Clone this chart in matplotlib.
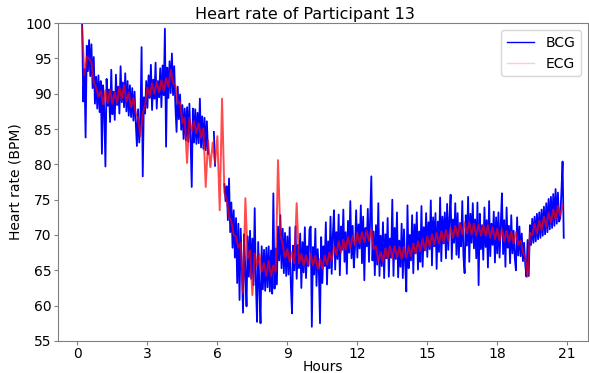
import numpy as np
import matplotlib
matplotlib.use("Agg")
import matplotlib.pyplot as plt

# BCG estimate, one sample every 0.05 h from 0.20 h (NaN = no BCG output)
nan = np.nan
bcg_hr = [
    100.0, 88.9, 93.5, 83.8, 96.8, 93.2, 97.6, 92.5, 97.0, 90.8, 95.2, 88.6, 92.4, 87.9, 92.6, 87.4,
    91.8, 81.5, 91.2, 87.6, 79.7, 92.1, 88.3, 90.6, 86.0, 93.4, 87.1, 90.3, 86.3, 92.7, 88.4, 91.0, 87.2, 93.9, 88.8, 91.6,
    88.1, 92.9, 87.5, 91.8, 86.9, 91.2, 86.7, 90.8, 86.2, 90.3, 85.9, 82.6, 87.8, 83.1, 85.9, 96.6, 78.3, 89.5, 87.2, 91.8,
    88.0, 92.6, 89.4, 94.1, 87.7, 92.0, 89.3, 94.4, 87.9, 91.8, 89.5, 93.6, 88.1, 94.0, 89.8, 99.2, 82.5, 93.7, 89.4, 94.6,
    90.1, 95.7, 89.8, 93.9, 88.2, 84.6, 91.0, 86.4, 89.9, 84.9, 88.4, 83.6, 87.9, 83.4, 88.1, 83.2, 88.6, 83.5, 76.8, 87.9,
    83.1, 87.8, 82.9, 87.3, 83.0, 89.3, 82.4, 86.8, 82.2, 86.6, 82.0, 86.1, 81.5, nan, nan, nan, nan, 84.6, 79.8, nan,
    nan, nan, nan, nan, nan, nan, 77.2, 74.8, 76.9, 72.1, 78.0, 70.4, 74.6, 68.2, 73.5, 66.8, 72.4, 63.2, 71.6, 60.8,
    70.9, 65.2, 59.0, 70.1, 64.6, 59.9, 69.8, 64.1, 70.6, 63.8, 69.5, 62.9, 73.8, 63.4, 57.7, 69.0, 62.6, 57.5, 68.4, 62.3,
    67.9, 62.1, 68.2, 62.6, 68.4, 62.0, 67.8, 61.7, 75.9, 62.4, 68.1, 63.0, 71.2, 66.4, 72.8, 65.3, 70.9, 64.6, 70.3, 64.2,
    69.8, 64.4, 71.1, 62.9, 58.9, 68.5, 65.0, 71.2, 63.8, 68.6, 65.3, 70.2, 62.5, 69.0, 64.7, 71.1, 63.9, 68.4, 65.6, 70.8,
    71.2, 57.0, 68.3, 64.4, 70.9, 62.8, 68.0, 65.1, 57.5, 69.7, 63.2, 68.4, 65.6, 71.8, 63.0, 69.1, 65.3, 72.6, 64.5, 70.0,
    73.5, 65.1, 70.4, 66.6, 72.9, 64.3, 71.2, 67.9, 73.6, 66.2, 70.4, 64.5, 72.0, 67.5, 74.8, 66.7, 71.3, 65.4, 68.2, 73.5,
    66.8, 71.5, 68.1, 74.2, 66.0, 72.6, 63.6, 71.0, 68.4, 73.7, 66.2, 72.4, 78.3, 66.4, 70.5, 64.3, 71.4, 65.8, 74.5, 64.2,
    69.9, 65.6, 71.8, 63.9, 70.1, 66.7, 72.4, 64.1, 69.5, 66.8, 75.0, 64.2, 71.0, 66.6, 73.2, 64.0, 69.2, 65.5, 71.6, 63.9,
    70.8, 66.0, 62.0, 74.2, 65.3, 70.0, 66.4, 72.8, 64.6, 71.5, 67.4, 73.2, 65.1, 70.5, 66.2, 74.1, 65.5, 71.1, 67.8, 73.1,
    66.9, 71.8, 68.0, 74.9, 65.7, 72.5, 68.4, 73.1, 65.2, 71.9, 67.6, 75.3, 66.3, 72.6, 68.8, 73.2, 66.7, 74.4, 67.9, 72.4,
    75.7, 66.6, 72.2, 68.9, 74.5, 67.2, 73.1, 66.8, 71.7, 68.4, 74.8, 67.0, 64.6, 72.8, 68.5, 75.4, 66.2, 73.0, 68.9, 74.5,
    68.1, 72.2, 66.7, 74.6, 62.9, 73.0, 68.0, 71.4, 66.5, 73.9, 68.3, 72.1, 65.4, 74.8, 67.0, 71.6, 68.6, 73.3, 66.1, 72.5,
    67.4, 73.2, 66.8, 71.6, 75.9, 67.3, 72.1, 65.5, 73.9, 68.2, 71.3, 66.0, 72.8, 67.4, 70.6, 66.8, 65.0, 72.5, 67.1, 71.2,
    67.0, 70.2, 66.3, 68.9, 65.8, 64.1, 69.3, 64.2, 71.4, 68.6, 72.3, 68.9, 72.6, 69.1, 73.0, 69.4, 73.2, 69.6, 73.6, 69.9,
    74.0, 70.1, 74.5, 70.4, 75.1, 70.8, 75.4, 71.0, 75.8, 71.3, 76.5, 71.6, 76.0, 71.9, 72.4, 76.1, 80.4, 69.6,
]

# ECG estimate, one sample every 0.1 h from 0.2 h
ecg_hr = [
    99.5, 92.6, 95.2, 95.0, 94.4, 91.6, 90.9, 89.6, 90.4, 88.5,
    90.5, 88.7, 90.6, 88.6, 90.2, 88.7, 90.9, 89.3, 91.2, 88.9,
    90.1, 88.1, 89.4, 87.2, 86.6, 84.0, 87.2, 88.4, 90.9, 89.7,
    91.5, 90.0, 91.7, 90.2, 91.9, 90.4, 92.2, 91.0, 93.4, 91.5,
    91.2, 88.6, 88.8, 85.8, 86.6, 80.2, 86.6, 84.7, 86.1, 84.4,
    85.8, 83.8, 85.1, 76.8, 83.4, 79.6, 83.1, 80.2, 84.0, 73.5,
    89.3, 76.0, 75.0, 72.6, 71.9, 70.0, 69.8, 68.2, 68.9, 61.8,
    75.2, 66.7, 67.8, 61.5, 67.4, 65.6, 67.3, 64.8, 66.0, 64.2,
    66.3, 64.2, 65.7, 64.8, 80.6, 70.2, 68.6, 66.8, 68.0, 66.2,
    67.6, 66.0, 74.5, 66.0, 67.3, 65.7, 67.1, 65.7, 67.3, 65.7,
    67.0, 65.2, 66.6, 65.2, 67.1, 65.8, 67.5, 66.4, 68.4, 67.2,
    69.1, 67.5, 69.3, 67.9, 69.7, 68.2, 69.9, 68.5, 70.3, 68.8,
    70.4, 69.0, 70.6, 69.2, 70.8, 68.0, 68.4, 66.2, 67.6, 66.2,
    68.1, 66.7, 68.4, 66.7, 68.4, 66.9, 68.3, 66.6, 68.3, 66.8,
    68.4, 67.0, 68.8, 67.4, 69.1, 67.7, 69.4, 67.9, 69.8, 68.4,
    70.1, 68.6, 70.3, 68.8, 70.5, 69.0, 70.7, 69.2, 71.0, 69.6,
    71.3, 69.8, 71.6, 70.1, 71.8, 70.2, 71.8, 70.1, 71.6, 69.9,
    71.5, 69.9, 71.4, 69.9, 71.4, 69.6, 71.1, 69.4, 70.9, 69.2,
    70.8, 69.1, 70.6, 69.0, 70.5, 68.8, 70.4, 68.6, 69.2, 67.5,
    67.0, 64.1, 70.3, 70.0, 71.6, 70.2, 72.0, 70.7, 72.6, 71.2,
    73.1, 71.8, 73.6, 72.2, 74.1, 72.7, 74.2,
]

bcg_hours = 0.2 + 0.05 * np.arange(len(bcg_hr))
ecg_hours = 0.2 + 0.1 * np.arange(len(ecg_hr))

fig, ax = plt.subplots(figsize=(5.89, 3.73), dpi=100)
fig.subplots_adjust(left=0.0985, right=0.998, bottom=0.086, top=0.938)

ax.plot(bcg_hours, bcg_hr, color='blue', linewidth=1.3, label='BCG')
ax.plot(ecg_hours, ecg_hr, color='red', linewidth=1.4, alpha=0.7, label='ECG')

ax.set_ylim(55, 100)
ax.set_xticks(range(0, 22, 3))
ax.set_yticks(range(55, 101, 5))
ax.tick_params(labelsize=10, color='gray', length=3, pad=1.5)
for sp in ax.spines.values():
    sp.set_color('gray')

ax.set_xlabel('Hours', fontsize=10, labelpad=-1)
ax.set_ylabel('Heart rate (BPM)', fontsize=10, labelpad=2)
ax.set_title('Heart rate of Participant 13', fontsize=11.5, pad=3, x=0.466)

leg = ax.legend(loc='upper right', fontsize=10)
leg.get_lines()[0].set_linewidth(1.0)
leg.get_lines()[1].set_linewidth(1.0)
leg.get_lines()[1].set_alpha(0.2)

plt.savefig('out.png', dpi=100)
